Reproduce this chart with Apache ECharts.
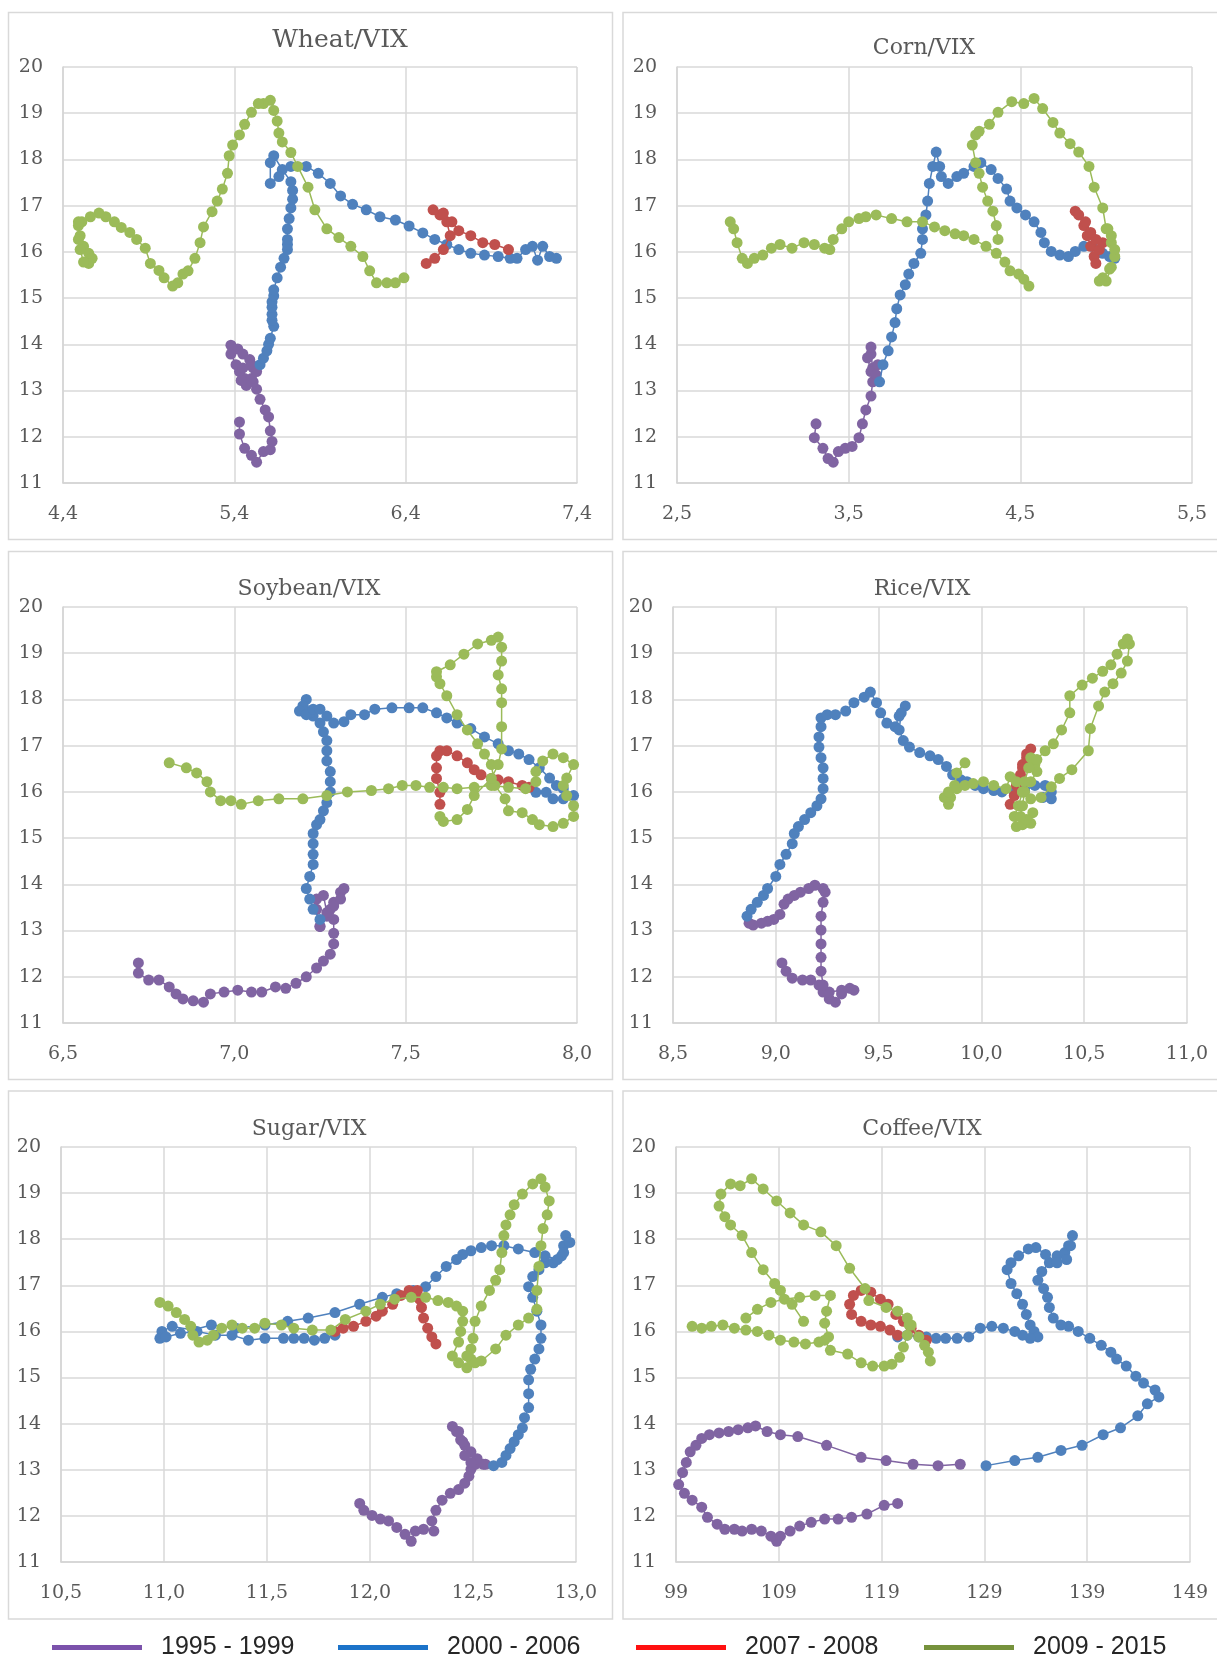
<!DOCTYPE html>
<html><head><meta charset="utf-8">
<script src="https://cdn.jsdelivr.net/npm/echarts@6/dist/echarts.min.js"></script>
<style>html,body{margin:0;padding:0;background:#fff}#c{width:1217px;height:1657px}</style>
</head><body><div id="c"></div>
<script>
// ---------- DATA ----------
const periods = ['1995 - 1999', '2000 - 2006', '2007 - 2008', '2009 - 2015'];
const yTicks = [11, 20, 1];

// Wheat/VIX
const wheatPurple = [[5.43,12.32],[5.43,12.06],[5.46,11.75],[5.5,11.6],[5.53,11.45],[5.57,11.68],[5.61,11.72],[5.62,11.9],[5.61,12.13],[5.6,12.43],[5.58,12.58],[5.55,12.81],[5.53,13.03],[5.51,13.19],[5.46,13.26],[5.43,13.41],[5.41,13.56],[5.38,13.79],[5.38,13.98],[5.42,13.9],[5.45,13.79],[5.49,13.67],[5.51,13.49],[5.5,13.26],[5.47,13.11],[5.44,13.22],[5.45,13.49],[5.5,13.56],[5.53,13.41]];
const wheatBlue = [[5.55,13.56],[5.57,13.7],[5.59,13.86],[5.6,14.0],[5.61,14.13],[5.63,14.39],[5.62,14.52],[5.62,14.65],[5.62,14.8],[5.62,14.92],[5.63,15.05],[5.63,15.18],[5.65,15.44],[5.67,15.67],[5.69,15.86],[5.71,16.05],[5.71,16.16],[5.71,16.27],[5.71,16.5],[5.72,16.72],[5.73,16.95],[5.74,17.14],[5.74,17.33],[5.73,17.52],[5.68,17.78],[5.63,18.08],[5.61,17.93],[5.61,17.48],[5.66,17.63],[5.73,17.85],[5.82,17.85],[5.89,17.7],[5.96,17.48],[6.02,17.21],[6.09,17.03],[6.17,16.91],[6.25,16.76],[6.34,16.69],[6.42,16.56],[6.5,16.41],[6.57,16.27],[6.64,16.16],[6.71,16.05],[6.78,15.97],[6.86,15.93],[6.94,15.9],[7.01,15.86],[7.05,15.86],[7.1,16.05],[7.14,16.12],[7.17,15.82],[7.2,16.12],[7.24,15.9],[7.28,15.86]];
const wheatRed = [[6.52,15.75],[6.57,15.86],[6.62,16.05],[6.66,16.35],[6.64,16.65],[6.6,16.8],[6.56,16.91],[6.62,16.84],[6.67,16.65],[6.71,16.46],[6.78,16.35],[6.85,16.2],[6.92,16.16],[7.0,16.05]];
const wheatGreen = [[6.39,15.44],[6.34,15.33],[6.29,15.33],[6.23,15.33],[6.19,15.59],[6.15,15.9],[6.08,16.12],[6.01,16.31],[5.94,16.5],[5.87,16.91],[5.83,17.4],[5.77,17.85],[5.73,18.15],[5.68,18.38],[5.66,18.57],[5.65,18.83],[5.63,19.06],[5.61,19.28],[5.57,19.21],[5.54,19.21],[5.5,19.02],[5.46,18.76],[5.43,18.53],[5.39,18.31],[5.37,18.08],[5.36,17.7],[5.33,17.36],[5.3,17.1],[5.27,16.87],[5.22,16.54],[5.2,16.2],[5.17,15.86],[5.13,15.59],[5.1,15.52],[5.07,15.33],[5.04,15.26],[4.99,15.44],[4.96,15.6],[4.91,15.75],[4.88,16.08],[4.83,16.27],[4.79,16.42],[4.74,16.53],[4.7,16.65],[4.65,16.76],[4.61,16.84],[4.56,16.76],[4.51,16.65],[4.49,16.57],[4.5,16.35],[4.52,16.12],[4.55,15.97],[4.57,15.86],[4.55,15.75],[4.52,15.78],[4.5,16.05],[4.49,16.27],[4.49,16.65]];

// Corn/VIX
const cornPurple = [[3.31,12.28],[3.3,11.98],[3.35,11.75],[3.38,11.53],[3.41,11.45],[3.44,11.68],[3.48,11.75],[3.52,11.79],[3.56,11.98],[3.58,12.28],[3.6,12.58],[3.63,12.88],[3.64,13.19],[3.64,13.49],[3.63,13.79],[3.63,13.94],[3.61,13.71],[3.63,13.41],[3.66,13.34],[3.67,13.56]];
const cornBlue = [[3.68,13.19],[3.7,13.56],[3.73,13.86],[3.75,14.16],[3.77,14.47],[3.78,14.77],[3.8,15.07],[3.83,15.29],[3.85,15.52],[3.88,15.75],[3.92,15.97],[3.93,16.27],[3.93,16.5],[3.95,16.8],[3.96,17.1],[3.97,17.48],[3.99,17.85],[4.01,18.16],[4.03,17.85],[4.04,17.63],[4.08,17.48],[4.13,17.63],[4.17,17.7],[4.23,17.85],[4.27,17.93],[4.33,17.78],[4.37,17.59],[4.42,17.36],[4.44,17.1],[4.48,16.95],[4.53,16.8],[4.58,16.65],[4.62,16.42],[4.64,16.2],[4.68,16.01],[4.73,15.93],[4.78,15.9],[4.82,16.01],[4.87,16.12],[4.92,16.12],[4.98,15.97],[5.02,15.9],[5.05,15.86]];
const cornRed = [[4.82,16.88],[4.84,16.8],[4.87,16.57],[4.89,16.35],[4.91,16.12],[4.93,15.9],[4.94,15.75],[4.96,16.05],[4.98,16.2],[4.94,16.27],[4.91,16.42],[4.88,16.65]];
const cornGreenA = [[2.81,16.65],[2.83,16.5],[2.85,16.2],[2.88,15.86],[2.91,15.75],[2.95,15.86],[3.0,15.93],[3.05,16.08],[3.1,16.16],[3.17,16.08],[3.24,16.2],[3.3,16.16],[3.36,16.08],[3.39,16.05],[3.41,16.27],[3.46,16.5],[3.5,16.65],[3.56,16.72],[3.6,16.76],[3.66,16.8],[3.75,16.72],[3.84,16.65],[3.93,16.65],[4.0,16.54],[4.06,16.46],[4.12,16.39],[4.17,16.35],[4.23,16.27],[4.3,16.12],[4.36,15.97],[4.41,15.78],[4.44,15.59],[4.49,15.52],[4.52,15.41],[4.55,15.26]];
const cornGreenB = [[4.37,16.27],[4.36,16.57],[4.34,16.88],[4.31,17.1],[4.28,17.4],[4.26,17.7],[4.24,17.93],[4.22,18.31],[4.24,18.53],[4.26,18.61],[4.32,18.76],[4.37,19.02],[4.45,19.25],[4.52,19.21],[4.58,19.32],[4.63,19.1],[4.69,18.8],[4.73,18.57],[4.79,18.34],[4.84,18.16],[4.9,17.85],[4.93,17.4],[4.98,16.95],[5.0,16.5],[5.03,16.2],[5.05,15.9],[5.02,15.63],[4.98,15.44],[4.96,15.37],[5.0,15.37],[5.03,15.67],[5.05,16.05],[5.03,16.35],[5.01,16.5]];

// Soybean/VIX
const soyPurple = [[6.72,12.3],[6.72,12.08],[6.75,11.93],[6.78,11.93],[6.81,11.78],[6.83,11.63],[6.85,11.52],[6.88,11.48],[6.91,11.45],[6.93,11.63],[6.97,11.67],[7.01,11.71],[7.05,11.67],[7.08,11.67],[7.12,11.78],[7.15,11.75],[7.18,11.86],[7.21,12.0],[7.24,12.19],[7.26,12.34],[7.28,12.49],[7.29,12.71],[7.29,12.94],[7.29,13.24],[7.28,13.46],[7.29,13.61],[7.31,13.83],[7.32,13.91],[7.31,13.68],[7.29,13.53],[7.27,13.31],[7.25,13.09],[7.24,13.46],[7.24,13.68],[7.26,13.76],[7.27,13.39],[7.25,13.09]];
const soyBlue = [[7.25,13.24],[7.23,13.46],[7.22,13.68],[7.21,13.91],[7.22,14.17],[7.23,14.43],[7.23,14.65],[7.23,14.88],[7.23,15.1],[7.24,15.29],[7.25,15.4],[7.26,15.59],[7.27,15.77],[7.28,16.0],[7.28,16.22],[7.28,16.44],[7.27,16.67],[7.27,16.89],[7.27,17.11],[7.26,17.3],[7.25,17.49],[7.23,17.64],[7.22,17.71],[7.21,18.0],[7.2,17.86],[7.19,17.75],[7.21,17.67],[7.23,17.79],[7.25,17.79],[7.27,17.64],[7.29,17.49],[7.32,17.52],[7.34,17.67],[7.38,17.67],[7.41,17.79],[7.46,17.82],[7.51,17.82],[7.55,17.82],[7.59,17.71],[7.62,17.6],[7.65,17.49],[7.69,17.37],[7.73,17.19],[7.77,17.04],[7.8,16.89],[7.83,16.82],[7.86,16.7],[7.89,16.52],[7.92,16.3],[7.94,16.14],[7.96,16.07],[7.99,15.92],[7.96,15.85],[7.93,15.85],[7.91,15.99],[7.88,15.99]];
const soyRed = [[7.6,15.73],[7.6,15.99],[7.59,16.29],[7.59,16.52],[7.59,16.78],[7.6,16.89],[7.62,16.89],[7.65,16.78],[7.68,16.63],[7.7,16.48],[7.72,16.37],[7.75,16.29],[7.77,16.26],[7.8,16.22],[7.84,16.14],[7.86,16.1]];
const soyGreen = [[6.81,16.63],[6.86,16.52],[6.89,16.41],[6.92,16.22],[6.93,16.0],[6.96,15.81],[6.99,15.81],[7.02,15.73],[7.07,15.81],[7.13,15.85],[7.2,15.85],[7.27,15.92],[7.33,16.0],[7.4,16.03],[7.45,16.07],[7.49,16.14],[7.53,16.14],[7.57,16.1],[7.61,16.1],[7.65,16.07],[7.7,16.1],[7.75,16.14],[7.8,16.1],[7.85,16.07],[7.88,16.22],[7.88,16.44],[7.9,16.67],[7.93,16.82],[7.96,16.74],[7.99,16.59],[7.97,16.3],[7.96,16.14],[7.97,15.92],[7.99,15.7],[7.99,15.47],[7.96,15.32],[7.93,15.25],[7.89,15.29],[7.87,15.4],[7.84,15.55],[7.8,15.59],[7.79,15.85],[7.76,16.14],[7.75,16.59],[7.73,16.82],[7.71,17.04],[7.68,17.34],[7.65,17.67],[7.62,18.08],[7.6,18.34],[7.59,18.49],[7.59,18.6],[7.63,18.75],[7.67,18.98],[7.71,19.2],[7.75,19.28],[7.77,19.35],[7.78,19.13],[7.78,18.83],[7.77,18.53],[7.78,18.23],[7.78,17.93],[7.78,17.41],[7.78,16.93],[7.77,16.59],[7.75,16.29],[7.7,15.92],[7.68,15.62],[7.65,15.4],[7.61,15.36],[7.6,15.47]];

// Rice/VIX
const ricePurple = [[9.03,12.3],[9.05,12.12],[9.08,11.97],[9.13,11.93],[9.17,11.93],[9.21,11.82],[9.23,11.67],[9.26,11.52],[9.29,11.45],[9.32,11.63],[9.36,11.75],[9.38,11.71],[9.32,11.71],[9.26,11.67],[9.23,11.82],[9.22,12.12],[9.22,12.42],[9.22,12.71],[9.22,13.01],[9.22,13.31],[9.23,13.61],[9.24,13.83],[9.23,13.91],[9.19,13.98],[9.16,13.91],[9.12,13.83],[9.09,13.76],[9.06,13.68],[9.04,13.57],[9.02,13.35],[8.99,13.24],[8.96,13.2],[8.93,13.16],[8.89,13.12],[8.87,13.16]];
const riceBlue = [[8.86,13.31],[8.88,13.46],[8.91,13.61],[8.94,13.76],[8.96,13.91],[9.0,14.17],[9.02,14.43],[9.05,14.65],[9.08,14.88],[9.09,15.1],[9.11,15.25],[9.14,15.4],[9.17,15.55],[9.2,15.7],[9.22,15.85],[9.23,16.07],[9.23,16.29],[9.23,16.52],[9.22,16.74],[9.21,16.97],[9.21,17.19],[9.22,17.41],[9.22,17.6],[9.25,17.67],[9.29,17.67],[9.34,17.75],[9.38,17.93],[9.43,18.05],[9.46,18.16],[9.49,17.93],[9.51,17.71],[9.54,17.49],[9.58,17.41],[9.6,17.64],[9.63,17.86],[9.61,17.71],[9.6,17.34],[9.62,17.11],[9.65,16.97],[9.7,16.85],[9.75,16.78],[9.79,16.7],[9.83,16.55],[9.86,16.37],[9.9,16.26],[9.93,16.22],[9.97,16.14],[10.01,16.07],[10.06,16.03],[10.1,16.0],[10.16,16.0],[10.21,16.03],[10.26,16.14],[10.31,16.14],[10.34,16.0],[10.34,15.85],[10.3,15.88]];
const riceRed = [[10.14,15.73],[10.16,15.92],[10.17,16.14],[10.19,16.37],[10.2,16.59],[10.22,16.82],[10.24,16.93],[10.22,16.74],[10.2,16.52],[10.18,16.22]];
const riceGreen = [[9.92,16.63],[9.88,16.41],[9.87,16.14],[9.85,15.88],[9.84,15.73],[9.82,15.88],[9.84,16.0],[9.88,16.07],[9.92,16.14],[9.96,16.18],[10.01,16.22],[10.06,16.14],[10.12,16.07],[10.14,16.33],[10.17,16.22],[10.2,16.0],[10.18,15.7],[10.16,15.47],[10.17,15.25],[10.2,15.29],[10.24,15.32],[10.25,15.55],[10.22,15.4],[10.19,15.47],[10.2,15.7],[10.21,16.0],[10.24,16.22],[10.27,16.44],[10.26,16.59],[10.24,16.74],[10.23,16.52],[10.21,16.22],[10.2,16.0],[10.24,15.85],[10.29,15.88],[10.34,16.11],[10.38,16.29],[10.44,16.48],[10.52,16.89],[10.53,17.37],[10.57,17.86],[10.6,18.16],[10.64,18.34],[10.68,18.57],[10.71,18.83],[10.72,19.2],[10.71,19.31],[10.69,19.2],[10.66,18.98],[10.63,18.75],[10.59,18.61],[10.54,18.46],[10.49,18.31],[10.43,18.08],[10.43,17.71],[10.39,17.34],[10.35,17.04],[10.31,16.89],[10.27,16.7]];

// Sugar/VIX
const sugarPurple = [[11.95,12.27],[11.97,12.12],[12.01,12.01],[12.05,11.93],[12.09,11.89],[12.13,11.75],[12.17,11.6],[12.2,11.45],[12.22,11.67],[12.26,11.71],[12.31,11.67],[12.3,11.89],[12.32,12.12],[12.35,12.34],[12.39,12.49],[12.43,12.57],[12.46,12.71],[12.48,12.86],[12.49,13.01],[12.51,13.12],[12.55,13.12],[12.52,13.24],[12.49,13.39],[12.46,13.53],[12.44,13.65],[12.42,13.83],[12.4,13.94],[12.43,13.83],[12.45,13.61],[12.46,13.31],[12.49,13.16],[12.56,13.12]];
const sugarBlue = [[12.6,13.09],[12.64,13.16],[12.66,13.31],[12.68,13.46],[12.7,13.61],[12.72,13.76],[12.74,13.91],[12.75,14.13],[12.77,14.35],[12.77,14.65],[12.77,14.95],[12.78,15.18],[12.8,15.4],[12.82,15.62],[12.83,15.85],[12.83,16.14],[12.81,16.44],[12.79,16.74],[12.77,16.97],[12.79,17.19],[12.82,17.34],[12.85,17.49],[12.89,17.49],[12.93,17.64],[12.94,17.86],[12.95,18.08],[12.97,17.93],[12.94,17.71],[12.91,17.56],[12.85,17.64],[12.8,17.71],[12.72,17.79],[12.65,17.86],[12.59,17.86],[12.54,17.82],[12.49,17.75],[12.45,17.67],[12.42,17.56],[12.37,17.41],[12.32,17.19],[12.27,16.97],[12.21,16.89],[12.13,16.82],[12.06,16.74],[11.95,16.59],[11.83,16.41],[11.7,16.29],[11.6,16.22],[11.49,16.14],[11.35,16.07],[11.23,16.14],[11.14,16.03],[11.04,16.11],[10.99,16.0],[10.98,15.85],[11.01,15.88],[11.08,15.96],[11.16,16.0],[11.25,15.92],[11.33,15.92],[11.41,15.81],[11.49,15.85],[11.58,15.85],[11.63,15.85],[11.68,15.85],[11.73,15.81],[11.78,15.85],[11.83,15.92]];
const sugarRed = [[11.83,16.0],[11.87,16.07],[11.92,16.11],[11.98,16.22],[12.03,16.33],[12.06,16.44],[12.11,16.59],[12.15,16.78],[12.19,16.89],[12.23,16.89],[12.24,16.7],[12.25,16.52],[12.26,16.29],[12.28,16.07],[12.3,15.88],[12.32,15.73]];
const sugarGreen = [[10.98,16.63],[11.02,16.55],[11.06,16.41],[11.1,16.26],[11.13,16.11],[11.14,15.92],[11.17,15.77],[11.21,15.81],[11.24,15.92],[11.28,16.07],[11.33,16.14],[11.38,16.07],[11.44,16.07],[11.49,16.18],[11.57,16.14],[11.63,16.07],[11.72,16.03],[11.81,16.03],[11.88,16.26],[11.98,16.44],[12.05,16.59],[12.12,16.7],[12.2,16.74],[12.27,16.74],[12.33,16.67],[12.38,16.63],[12.42,16.55],[12.45,16.44],[12.45,16.22],[12.44,16.0],[12.43,15.77],[12.4,15.47],[12.43,15.32],[12.47,15.21],[12.49,15.4],[12.49,15.62],[12.5,15.85],[12.51,16.22],[12.54,16.55],[12.58,16.89],[12.61,17.11],[12.63,17.34],[12.64,17.71],[12.65,18.08],[12.66,18.31],[12.68,18.53],[12.7,18.75],[12.74,18.98],[12.79,19.2],[12.83,19.31],[12.85,19.13],[12.87,18.83],[12.86,18.53],[12.84,18.23],[12.83,17.86],[12.82,17.41],[12.81,16.89],[12.81,16.48],[12.77,16.29],[12.72,16.14],[12.66,15.92],[12.61,15.62],[12.54,15.36],[12.51,15.32],[12.47,15.47]];

// Coffee/VIX
const coffeePurple = [[120.56,12.27],[119.25,12.23],[117.57,12.04],[116.08,11.97],[114.77,11.93],[113.46,11.93],[112.15,11.86],[111.03,11.78],[110.1,11.67],[109.16,11.56],[108.79,11.45],[108.23,11.56],[107.3,11.67],[106.36,11.71],[105.43,11.67],[104.68,11.71],[103.75,11.71],[103.0,11.82],[102.06,11.97],[101.5,12.19],[100.57,12.34],[99.82,12.49],[99.26,12.68],[99.64,12.94],[100.0,13.16],[100.38,13.39],[100.94,13.53],[101.5,13.68],[102.25,13.76],[103.19,13.8],[104.12,13.83],[105.05,13.87],[105.99,13.91],[106.74,13.95],[107.86,13.83],[109.16,13.76],[110.85,13.72],[113.65,13.53],[117.01,13.27],[119.44,13.2],[122.06,13.12],[124.49,13.09],[126.65,13.12]];
const coffeeBlue = [[129.16,13.09],[131.96,13.2],[134.2,13.27],[136.45,13.42],[138.5,13.53],[140.55,13.76],[142.24,13.91],[143.92,14.17],[144.85,14.43],[145.97,14.58],[145.6,14.73],[144.48,14.88],[143.73,15.03],[142.8,15.25],[141.86,15.4],[141.3,15.55],[140.37,15.7],[139.25,15.85],[138.13,16.0],[137.19,16.11],[136.44,16.14],[135.7,16.29],[135.32,16.52],[135.14,16.74],[134.76,16.93],[134.2,17.11],[134.58,17.3],[135.32,17.49],[136.07,17.64],[136.82,17.71],[137.19,17.86],[137.57,18.08],[137.38,17.86],[137.0,17.56],[136.07,17.49],[134.95,17.67],[134.01,17.82],[133.27,17.79],[132.33,17.64],[131.59,17.49],[131.21,17.34],[131.59,17.04],[132.15,16.82],[132.71,16.59],[133.08,16.37],[133.45,16.14],[133.83,16.0],[134.2,15.88],[133.45,15.85],[132.71,15.92],[131.96,16.0],[130.84,16.07],[129.72,16.11],[128.6,16.07],[127.48,15.88],[126.35,15.85],[125.23,15.85],[124.3,15.85],[123.36,15.88],[122.62,15.88],[121.5,15.92],[120.56,15.88]];
const coffeeRed = [[123.36,15.81],[122.62,15.92],[121.87,16.07],[121.12,16.22],[120.38,16.37],[119.63,16.59],[118.88,16.7],[117.95,16.85],[117.01,16.89],[116.26,16.78],[115.89,16.59],[116.08,16.37],[117.01,16.22],[117.95,16.14],[118.88,16.11],[119.81,16.03],[120.56,15.92]];
const coffeeGreenA = [[100.57,16.11],[101.5,16.07],[102.44,16.11],[103.56,16.14],[104.68,16.07],[105.8,16.03],[106.92,16.0],[108.04,15.92],[109.16,15.81],[110.47,15.77],[111.59,15.73],[112.9,15.77],[113.84,15.88],[113.46,16.18],[113.65,16.44],[114.02,16.78],[112.53,16.78],[111.03,16.74],[109.54,16.7],[108.23,16.63],[106.92,16.48],[105.8,16.29]];
const coffeeGreenB = [[111.41,16.22],[110.29,16.59],[109.16,16.89],[108.6,17.04],[107.48,17.34],[106.36,17.71],[105.43,18.08],[104.31,18.31],[103.75,18.49],[103.19,18.72],[103.37,18.98],[104.31,19.2],[105.24,19.16],[106.36,19.31],[107.48,19.09],[108.79,18.83],[110.1,18.57],[111.41,18.31],[113.09,18.16],[114.58,17.86],[115.89,17.37],[117.39,16.93],[117.76,16.67],[119.44,16.52],[120.56,16.44],[121.5,16.29],[121.68,16.14],[121.5,15.92],[121.12,15.66],[120.75,15.44],[120.0,15.29],[119.25,15.25],[118.13,15.25],[117.01,15.32],[115.7,15.51],[114.02,15.59],[113.46,15.81]];
const coffeeGreenC = [[121.87,16.14],[122.62,15.88],[123.18,15.7],[123.55,15.55],[123.74,15.36]];

// ---------- STYLE / LAYOUT ----------
const markerColors = ['#8064A2', '#4F81BD', '#C0504D', '#9BBB59'];
const legendColors = ['#7B52AB', '#1C73C9', '#FF1010', '#76923C'];
const FONT = "'DejaVu Serif', serif";

const panels = [
  {title:'Wheat/VIX',  tx:340, ty:40,  ts:25, box:[8.5,12.5,604,527],  grid:{left:63, top:67,  width:514, height:416}, x:[4.4,7.4,1],  dec:1,
   data:[[wheatPurple],[wheatBlue],[wheatRed],[wheatGreen]]},
  {title:'Corn/VIX',   tx:924, ty:48,  ts:22, box:[623,12.5,600,527],  grid:{left:677, top:67,  width:515, height:416}, x:[2.5,5.5,1],  dec:1,
   data:[[cornPurple],[cornBlue],[cornRed],[cornGreenA,cornGreenB]]},
  {title:'Soybean/VIX',tx:309, ty:589, ts:22, box:[8.5,551.5,604,528],grid:{left:63, top:607, width:514, height:416}, x:[6.5,8.0,0.5],dec:1,
   data:[[soyPurple],[soyBlue],[soyRed],[soyGreen]]},
  {title:'Rice/VIX',   tx:922, ty:589, ts:22, box:[623,551.5,600,528], grid:{left:673, top:607, width:514, height:416}, x:[8.5,11.0,0.5],dec:1,
   data:[[ricePurple],[riceBlue],[riceRed],[riceGreen]]},
  {title:'Sugar/VIX',  tx:309, ty:1129,ts:22, box:[8.5,1091,604,528], grid:{left:61, top:1147,width:515, height:415}, x:[10.5,13.0,0.5],dec:1,
   data:[[sugarPurple],[sugarBlue],[sugarRed],[sugarGreen]]},
  {title:'Coffee/VIX', tx:922, ty:1129,ts:22, box:[623,1091,600,528], grid:{left:676, top:1147,width:514, height:415}, x:[99,149,10], dec:0,
   data:[[coffeePurple],[coffeeBlue],[coffeeRed],[coffeeGreenA,coffeeGreenB,coffeeGreenC]]}
];

const grids = [], xAxes = [], yAxes = [], series = [], graphics = [];
panels.forEach((p, i) => {
  grids.push(Object.assign({containLabel:false}, p.grid));
  const axisCommon = {
    axisTick:{show:false},
    axisLine:{show:true, lineStyle:{color:'#d4d4d4', width:1.5}},
    splitLine:{show:true, lineStyle:{color:'#d9d9d9', width:1.5}},
    axisLabel:{color:'#595959', fontFamily:FONT, fontSize:19}
  };
  xAxes.push(Object.assign({}, axisCommon, {
    type:'value', gridIndex:i, min:p.x[0], max:p.x[1], interval:p.x[2],
    axisLabel:Object.assign({}, axisCommon.axisLabel, {margin:22,
      formatter: v => p.dec ? v.toFixed(p.dec).replace('.', ',') : String(Math.round(v))})
  }));
  yAxes.push(Object.assign({}, axisCommon, {
    type:'value', gridIndex:i, min:yTicks[0], max:yTicks[1], interval:yTicks[2],
    axisLabel:Object.assign({}, axisCommon.axisLabel, {margin:20})
  }));
  p.data.forEach((segs, k) => {
    segs.forEach(seg => {
      series.push({
        type:'line', name:periods[k], xAxisIndex:i, yAxisIndex:i, data:seg,
        symbol:'circle', symbolSize:11, showSymbol:true, showAllSymbol:true,
        lineStyle:{color:markerColors[k], width:1.5},
        itemStyle:{color:markerColors[k]},
        z: 2 + k, animation:false, silent:true
      });
    });
  });
  graphics.push({type:'rect', z:-10, shape:{x:p.box[0], y:p.box[1], width:p.box[2], height:p.box[3]},
    style:{fill:'none', stroke:'#d9d9d9', lineWidth:1.5}});
  graphics.push({type:'text', x:p.tx, y:p.ty, style:{text:p.title, textAlign:'center', textVerticalAlign:'middle',
    font:p.ts + "px " + FONT, fill:'#595959'}});
});

const legendLeft = [47, 333, 631, 919];
const legends = periods.map((n, k) => ({
  data:[{name:n, icon:'rect', itemStyle:{color:legendColors[k]}}],
  left:legendLeft[k], top:1630, itemWidth:90, itemHeight:5, selectedMode:false,
  textStyle:{fontFamily:"'Liberation Sans Narrow','Liberation Sans',sans-serif", fontSize:25, color:'#262626', padding:[0,0,0,14]}
}));

const chart = echarts.init(document.getElementById('c'), null, {renderer:'canvas'});
chart.setOption({
  backgroundColor:'#ffffff',
  animation:false,
  grid:grids, xAxis:xAxes, yAxis:yAxes, series:series,
  legend:legends, graphic:graphics
});
</script></body></html>
